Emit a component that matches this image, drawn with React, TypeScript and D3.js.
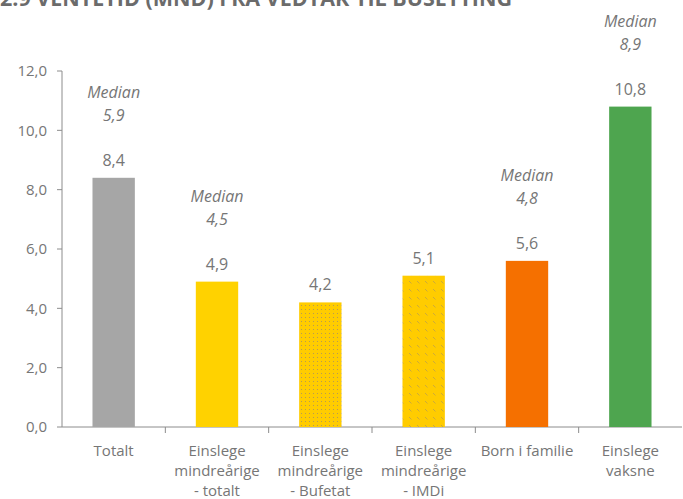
import React from "react";
import * as d3 from "d3";

// data
const categories = [
  ["Totalt"],
  ["Einslege", "mindreårige", "- totalt"],
  ["Einslege", "mindreårige", "- Bufetat"],
  ["Einslege", "mindreårige", "- IMDi"],
  ["Born i familie"],
  ["Einslege", "vaksne"],
];
const values = [8.4, 4.9, 4.2, 5.1, 5.6, 10.8];
const medians: (number | null)[] = [5.9, 4.5, null, null, 4.8, 8.9];
const fills = ["#a6a6a6", "#ffd200", "url(#dots)", "url(#dashes)", "#f57000", "#4ea54f"];
const yTicks = [0, 2, 4, 6, 8, 10, 12];

const W = 683;
const H = 499;
const margin = { top: 71, right: 1, bottom: 72, left: 62 };

const fmt = (v: number) => v.toFixed(1).replace(".", ",");

export default function App() {
  const keys = categories.map((c) => c.join(" "));
  const x = d3.scaleBand().domain(keys).range([margin.left, W - margin.right]);
  const y = d3.scaleLinear().domain([0, 12]).range([H - margin.bottom, margin.top]);
  const barW = x.step() * 0.41;
  const textCol = "#767676";
  const font = "'Open Sans', 'Noto Sans', sans-serif";

  return (
    <svg
      width={W}
      height={H}
      style={{ position: "absolute", left: 0, top: 0, background: "#fff" }}
      fontFamily={font}
    >
      <defs>
        <pattern id="dots" width="4" height="4" patternUnits="userSpaceOnUse">
          <rect width="4" height="4" fill="#ffcc00" />
          <rect x="1" y="1" width="1" height="1" fill="#b59a55" />
        </pattern>
        <pattern id="dashes" width="8" height="8" patternUnits="userSpaceOnUse">
          <rect width="8" height="8" fill="#ffcc00" />
          <line x1="1" y1="1" x2="3.5" y2="3.5" stroke="#b59a55" strokeWidth="0.7" />
        </pattern>
      </defs>

      {/* title, cut off at the top like the source */}
      <text
        x={0}
        y={6}
        fontSize={22}
        fontWeight="bold"
        fill="#6b6b6b"
        textLength={512}
        lengthAdjust="spacingAndGlyphs"
      >
        2.9 VENTETID (MND) FRA VEDTAK TIL BUSETTING
      </text>

      {/* y axis */}
      <line x1={margin.left} x2={margin.left} y1={y(12)} y2={y(0)} stroke="#8c8c8c" />
      {yTicks.map((t) => (
        <g key={t}>
          <line x1={margin.left - 5} x2={margin.left} y1={y(t)} y2={y(t)} stroke="#8c8c8c" />
          <text
            x={margin.left - 15}
            y={y(t)}
            dy="0.35em"
            textAnchor="end"
            fontSize={15}
            fill={textCol}
          >
            {fmt(t)}
          </text>
        </g>
      ))}

      {/* x axis */}
      <line x1={margin.left} x2={W - margin.right} y1={y(0)} y2={y(0)} stroke="#8c8c8c" />
      {keys.slice(1).map((k) => (
        <line
          key={k}
          x1={x(k)!}
          x2={x(k)!}
          y1={y(0)}
          y2={y(0) + 6}
          stroke="#8c8c8c"
        />
      ))}

      {/* bars */}
      {keys.map((k, i) => {
        const cx = x(k)! + x.step() / 2;
        const top = y(values[i]);
        return (
          <g key={k}>
            <rect
              x={cx - barW / 2}
              y={top}
              width={barW}
              height={y(0) - top}
              fill={fills[i]}
            />
            <text x={cx} y={top - 12} textAnchor="middle" fontSize={16} fill={textCol}>
              {fmt(values[i])}
            </text>
            {medians[i] != null && (
              <text
                x={cx}
                y={top - 80}
                textAnchor="middle"
                fontSize={16}
                fontStyle="italic"
                fill={textCol}
              >
                <tspan x={cx}>Median</tspan>
                <tspan x={cx} dy={23}>
                  {fmt(medians[i] as number)}
                </tspan>
              </text>
            )}
            <text x={cx} y={456} textAnchor="middle" fontSize={15} fill={textCol}>
              {categories[i].map((line, j) => (
                <tspan key={j} x={cx} dy={j === 0 ? 0 : 20}>
                  {line}
                </tspan>
              ))}
            </text>
          </g>
        );
      })}
    </svg>
  );
}
